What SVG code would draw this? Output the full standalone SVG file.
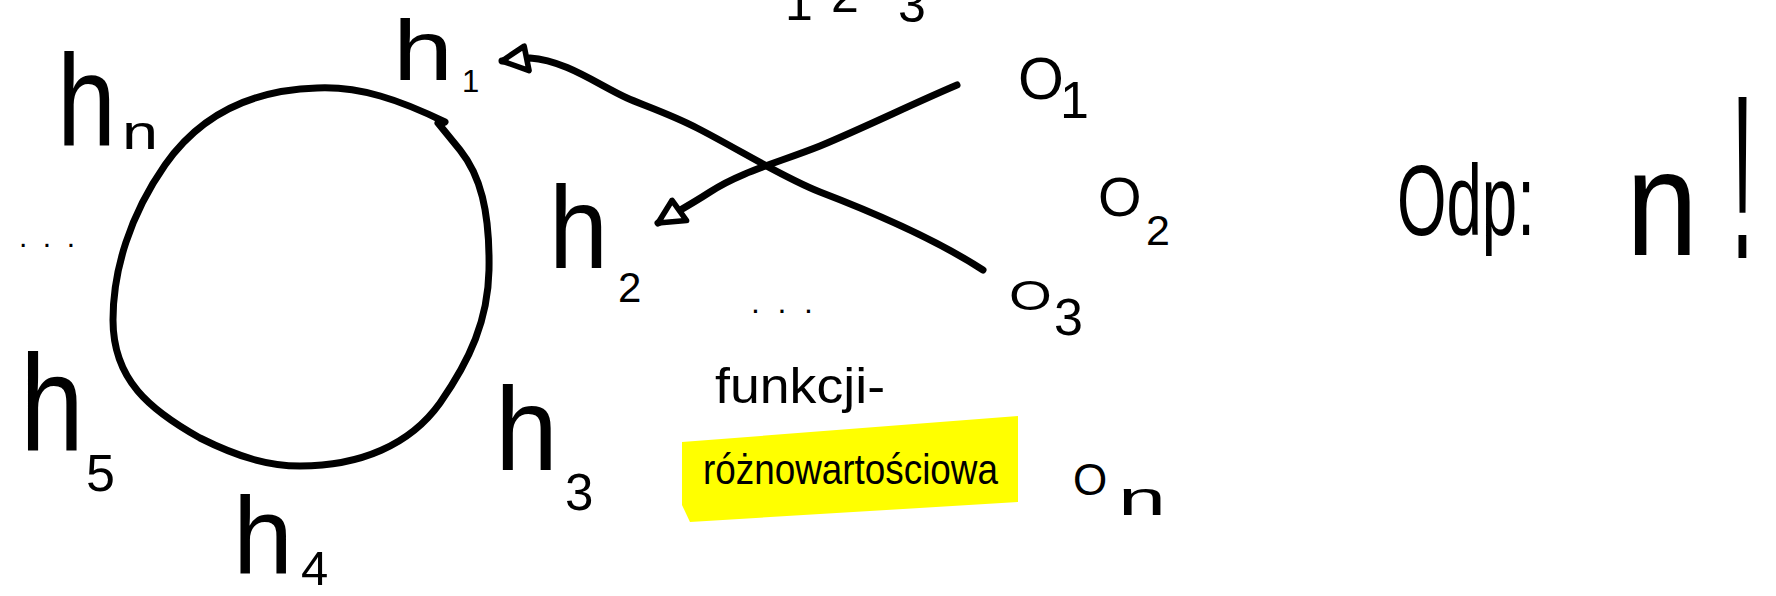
<svg xmlns="http://www.w3.org/2000/svg" width="1776" height="596" viewBox="0 0 1776 596">
<style>
text{font-family:"Liberation Sans",Arial,sans-serif;fill:#000}
.ink{fill:none;stroke:#000;stroke-width:7;stroke-linecap:round;stroke-linejoin:round}
</style>
<defs>
<marker id="arr" viewBox="0 0 32 32" refX="28" refY="16" markerWidth="36" markerHeight="36" markerUnits="userSpaceOnUse" orient="auto">
<path d="M28,16 L5,5 L7,27 Z" fill="#fff" stroke="#000" stroke-width="5" stroke-linejoin="round"/>
</marker>
</defs>
<rect width="1776" height="596" fill="#fff"/>
<g id="cycle">
<path class="ink" d="M445,122 C400,100 360,86 317,88 C250,90 200,115 165,165 C130,215 113,270 113,320 C113,380 150,410 200,438 C240,458 270,466 300,466 C360,466 410,445 440,403 C470,360 488,320 489,270 C490,210 480,175 460,150 L438,123"/>
</g>
<g id="node-hn"><text transform="translate(57,145) scale(0.816,1)" font-size="130">h</text><text transform="translate(122,149) scale(1.35,1)" font-size="48">n</text></g>
<g id="node-h1"><text transform="translate(393,80) scale(1.27,1)" font-size="85">h</text><text x="462" y="92" font-size="31">1</text></g>
<g id="node-h2"><text transform="translate(549,268) scale(0.915,1)" font-size="116">h</text><text x="618" y="302" font-size="42">2</text></g>
<g id="node-h3"><text transform="translate(495,470) scale(0.96,1)" font-size="118">h</text><text x="565" y="510" font-size="51">3</text></g>
<g id="node-h4"><text transform="translate(233,573) scale(0.98,1)" font-size="110">h</text><text x="301" y="585" font-size="49">4</text></g>
<g id="node-h5"><text transform="translate(20,451) scale(0.834,1)" font-size="138">h</text><text x="86" y="491" font-size="52">5</text></g>
<g id="dots-left"><text x="19" y="247" font-size="30" textLength="56" lengthAdjust="spacing">...</text></g>
<g id="dots-mid"><text x="751" y="313" font-size="32" textLength="62" lengthAdjust="spacing">...</text></g>
<g id="top-numbers"><text x="785" y="20" font-size="50">1</text><text x="831" y="12" font-size="50">2</text><text x="898" y="22" font-size="50">3</text></g>
<g id="node-o1"><text x="1018" y="99" font-size="59">O</text><text x="1060" y="118" font-size="52">1</text></g>
<g id="node-o2"><text x="1098" y="216" font-size="56">O</text><text x="1146" y="245" font-size="43">2</text></g>
<g id="node-o3"><text transform="translate(1009,310) scale(1.31,1)" font-size="42">O</text><text x="1054" y="335" font-size="52">3</text></g>
<g id="node-on"><text x="1073" y="495" font-size="44">O</text><text transform="translate(1118,515) scale(1.8,1)" font-size="48">n</text></g>
<g id="note">
<polygon points="682,442 1018,416 1018,502 690,522 682,505" fill="#ffff00"/>
<text x="715" y="403" font-size="50" textLength="170" lengthAdjust="spacingAndGlyphs">funkcji-</text>
<text x="703" y="484" font-size="42" textLength="295" lengthAdjust="spacingAndGlyphs">różnowartościowa</text>
</g>
<g id="answer">
<text transform="translate(1397,235) scale(0.636,1)" font-size="100">Odp:</text>
<text transform="translate(1626,255) scale(0.863,1)" font-size="150">n</text>
<text transform="translate(1731,258) scale(0.354,1)" font-size="234">!</text>
</g>
<g id="connectors">
<path class="ink" marker-end="url(#arr)" d="M957,85 C910,105 870,125 820,146 C780,162 740,172 710,192 C690,205 675,213 658,223"/>
<path class="ink" marker-end="url(#arr)" d="M983,270 C940,242 880,215 820,192 C780,176 740,150 697,128 C670,114 640,104 627,98 C600,86 565,60 530,58 L502,61"/>
</g>
</svg>
